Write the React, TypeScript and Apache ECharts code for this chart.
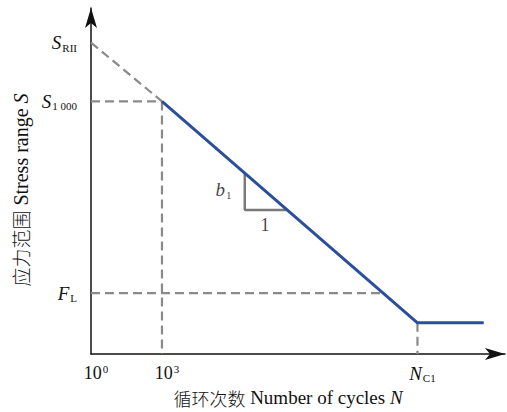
import React, { useEffect, useRef } from "react";
import * as echarts from "echarts";

// Schematic S-N curve (x: log10 of cycles, y: stress in arbitrary units)
const xTickValues = [0, 3, 13.8];
const xTickLabels = ["{n|10}{sup|0}", "{n|10}{sup|3}", "{i|N}{sub|C1}"];
const yTickValues = [90, 73, 17.6];
const yTickLabels = ["{i|S}{sub|RII}", "{i|S}{sub|1 000}", "{i|F}{sub|L}"];
const xTitle = "{c|循环次数} {t|Number of cycles} {ti|N}";
const yTitle = "{c|应力范围} {t|Stress range} {ti|S}";

const blueCurve = [
  [3, 73],
  [13.8, 9],
  [16.6, 9],
];
const dashedSegments = [
  [[0, 90], [3, 73]],
  [[0, 73], [3, 73]],
  [[3, 73], [3, 0]],
  [[0, 17.6], [12.34, 17.6]],
  [[13.8, 9], [13.8, 0]],
];
const slopeTriangle = [
  [6.5, 52],
  [6.5, 41.6],
  [8.28, 41.6],
];
const slopeLabels = [
  { value: [5.6, 47.4], text: "{i|b}{sub|1}" },
  { value: [7.35, 37.2], text: "{n|1}" },
];

const SERIF = "Liberation Serif";
const CJK = "Noto Sans CJK SC";

const rich = {
  n: { fontFamily: SERIF, fontSize: 18, color: "#111", lineHeight: 22 },
  i: { fontFamily: SERIF, fontSize: 19, fontStyle: "italic", color: "#111", lineHeight: 22 },
  sub: { fontFamily: SERIF, fontSize: 11, color: "#111", lineHeight: 22, padding: [10, 0, 0, 1] },
  sup: { fontFamily: SERIF, fontSize: 11, color: "#111", lineHeight: 22, padding: [0, 0, 8, 1] },
};
const titleRich = (size: number) => ({
  c: { fontFamily: CJK, fontSize: size - 1, fontWeight: 300, color: "#111" },
  t: { fontFamily: SERIF, fontSize: size, color: "#111" },
  ti: { fontFamily: SERIF, fontSize: size, fontStyle: "italic", color: "#111" },
});

export default function App() {
  const ref = useRef<HTMLDivElement>(null);
  useEffect(() => {
    if (!ref.current) return;
    const chart = echarts.init(ref.current, undefined, { renderer: "svg" });
    const series: any[] = [];
    dashedSegments.forEach((seg) => {
      series.push({
        type: "line",
        data: seg,
        symbol: "none",
        silent: true,
        lineStyle: { color: "#8a8a8a", width: 2.2, type: [9, 5] },
      });
    });
    series.push({
      type: "line",
      data: slopeTriangle,
      symbol: "none",
      silent: true,
      lineStyle: { color: "#7a7a7a", width: 2.5 },
    });
    series.push({
      type: "line",
      data: blueCurve,
      symbol: "none",
      silent: true,
      lineStyle: { color: "#2c4f9c", width: 3 },
    });
    series.push({
      type: "scatter",
      symbolSize: 0,
      silent: true,
      data: slopeLabels.map((d) => ({ value: d.value, name: d.text })),
      label: {
        show: true,
        position: "inside",
        fontFamily: SERIF,
        formatter: (p: any) => p.name,
        rich,
      },
    });
    chart.setOption({
      animation: false,
      textStyle: { fontFamily: SERIF },
      grid: { left: 91, right: 2, top: 8, bottom: 58, outerBoundsMode: "none", containLabel: false },
      xAxis: {
        type: "value",
        min: 0,
        max: 17.5,
        name: xTitle,
        nameLocation: "middle",
        nameGap: 32,
        nameTextStyle: {
          fontFamily: SERIF,
          fontSize: 19,
          color: "#111",
          padding: [0, 20, 0, 0],
          rich: titleRich(19),
        },
        splitLine: { show: false },
        axisTick: { show: false },
        axisLine: {
          show: true,
          onZero: false,
          symbol: ["none", "arrow"],
          symbolSize: [9, 20],
          lineStyle: { color: "#111", width: 1.5 },
        },
        axisLabel: {
          customValues: xTickValues,
          margin: 8,
          padding: [0, 0, 0, 10],
          fontFamily: SERIF,
          formatter: (v: number) => xTickLabels[xTickValues.indexOf(v)] ?? "",
          rich,
        },
      },
      yAxis: {
        type: "value",
        min: 0,
        max: 100,
        name: yTitle,
        nameLocation: "middle",
        nameRotate: 90,
        nameGap: 55,
        nameTextStyle: {
          fontFamily: SERIF,
          fontSize: 20,
          color: "#111",
          padding: [0, 18, 0, 0],
          rich: titleRich(20),
        },
        splitLine: { show: false },
        axisTick: { show: false },
        axisLine: {
          show: true,
          onZero: false,
          symbol: ["none", "arrow"],
          symbolSize: [9, 20],
          lineStyle: { color: "#111", width: 1.5 },
        },
        axisLabel: {
          customValues: yTickValues,
          margin: 14,
          fontFamily: SERIF,
          formatter: (v: number) => yTickLabels[yTickValues.indexOf(v)] ?? "",
          rich,
        },
      },
      series,
    });
    return () => chart.dispose();
  }, []);
  return <div ref={ref} style={{ width: 507, height: 412, position: "absolute", left: 0, top: 0, background: "#fff" }} />;
}
